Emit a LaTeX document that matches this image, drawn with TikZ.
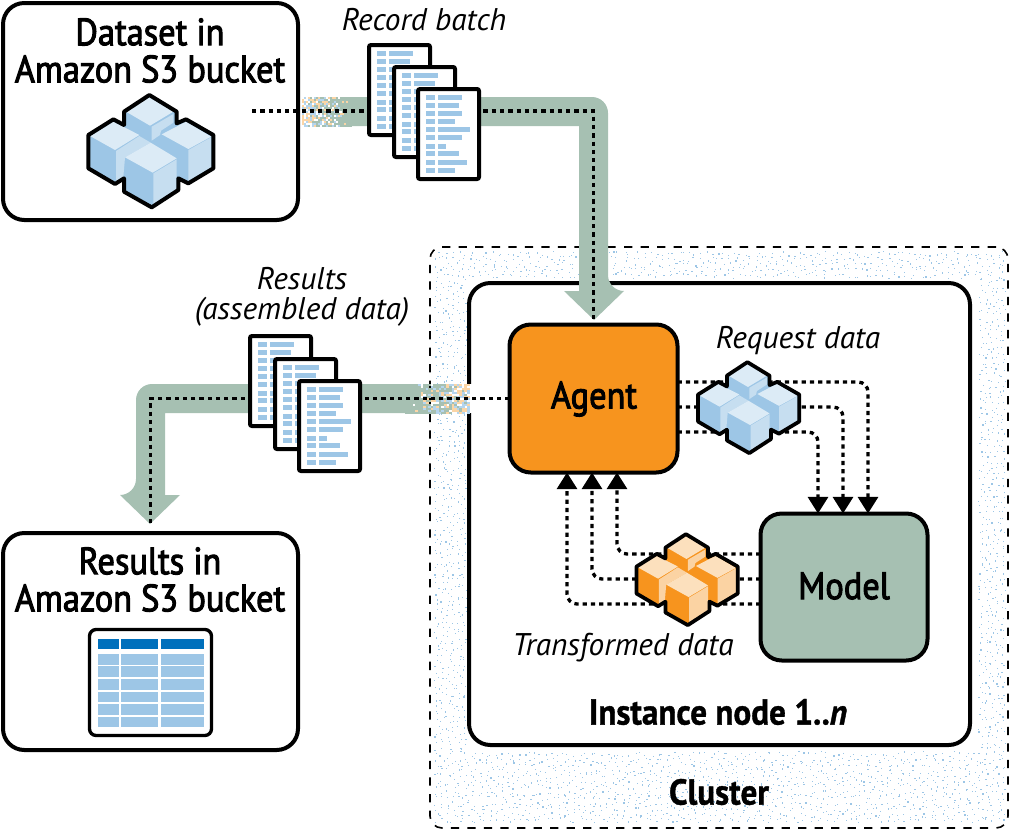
\documentclass[tikz,border=0pt]{standalone}
\usepackage{fontspec}
\setmainfont{PT Sans}
\newfontfamily\semib[FakeBold=2.6,FakeStretch=0.905]{PT Sans}
\newfontfamily\titlef[FakeBold=1,FakeStretch=0.92]{PT Sans}
\usetikzlibrary{arrows.meta,calc}
\definecolor{sage}{HTML}{A6C0B2}
\definecolor{amber}{HTML}{F7941E}
\definecolor{skyb}{HTML}{9DC6E6}
\definecolor{skytop}{HTML}{DCEBF6}
\definecolor{skyside}{HTML}{C6DEF0}
\definecolor{ambertop}{HTML}{FCE0BD}
\definecolor{amberside}{HTML}{FBD3A3}
\definecolor{headblue}{HTML}{0070BC}
\definecolor{speckblue}{HTML}{B5D5EE}
\definecolor{speckorange}{HTML}{FBD5A6}
\tikzset{
  box/.style={draw=black,line width=3pt,rounded corners=16pt,inner sep=0pt,outer sep=0pt},
  dots/.style={draw=black,line width=2.5pt,dash pattern=on 3.2pt off 3pt,rounded corners=7.5pt},
  tipped/.style={-{Triangle[length=12.5pt,width=15pt]}},
  lab/.style={font=\fontsize{23.5}{26}\selectfont\itshape,inner sep=0pt},
  head/.style={font=\fontsize{28.5}{30}\selectfont\semib,inner sep=0pt},
  title/.style={font=\fontsize{27}{30}\selectfont\titlef\bfseries,inner sep=0pt},
  band/.style={fill=sage,draw=none},
}
% cube cluster: centre x, y, scale, base, top, side, line width
\newcommand{\cubecluster}[7]{%
\begin{scope}[shift={(#1,#2)},scale=#3/3,shift={(-272,-213)},line join=round]
  \path[fill=#4] (268,45)--(350,95)--(350,130)--(378,118)--(460,165)--(460,265)--(385,310)--(355,295)--(355,330)--(275,382)--(192,335)--(192,295)--(165,312)--(85,265)--(85,165)--(160,118)--(192,135)--(192,95)--cycle;
  \fill[#6] (340,102)--(340,128)--(303,152)--(300,165)--(275,182)--(275,140)--cycle;
  \fill[#6] (238,168)--(272,188)--(195,232)--(190,290)--(168,303)--(168,213)--cycle;
  \fill[#6] (350,238)--(350,330)--(280,372)--(280,280)--cycle;
  \fill[#6] (453,172)--(453,262)--(385,302)--(385,210)--cycle;
  \fill[#5] (268,52)--(340,95)--(270,137)--(198,95)--cycle;
  \fill[#5] (160,125)--(238,165)--(165,210)--(90,168)--cycle;
  \fill[#5] (378,125)--(453,170)--(385,207)--(305,163)--cycle;
  \fill[#5] (272,188)--(350,235)--(278,278)--(195,232)--cycle;
  \draw[line width=#7,black] (268,45)--(350,95)--(350,130)--(378,118)--(460,165)--(460,265)--(385,310)--(355,295)--(355,330)--(275,382)--(192,335)--(192,295)--(165,312)--(85,265)--(85,165)--(160,118)--(192,135)--(192,95)--cycle;
\end{scope}}
% document page: outer left, outer top, name
\newcommand{\docpage}[3]{%
\node[draw=black,fill=white,line width=3pt,rounded corners=1.5pt,inner sep=0pt,outer sep=0pt,minimum width=61*.75pt,minimum height=90*.75pt] (#3) at (#1+32.5,#2+47) {};
\foreach \ly/\lx in {10/46,18/43,26/46,34.3/39,42.3/54,50.3/46,59/30,66.7/43,75/51,83/39}{
  \fill[skyb] (#1+10,#2+\ly-2.5) rectangle (#1+19,#2+\ly+2.5);
  \fill[skyb] (#1+21.5,#2+\ly-2.5) rectangle (#1+\lx,#2+\ly+2.5);
}}
% dithered fade of a band: green end x, far end x, top y, rows
\newcommand{\speckle}[4]{%
\foreach \ci in {0,...,24}{
  \pgfmathsetmacro{\cx}{#1+(#2-#1)*\ci/24}
  \pgfmathsetmacro{\ct}{\ci/24}
  \foreach \cj in {0,...,#4}{
    \pgfmathsetmacro{\cy}{#3+2*\cj}
    \pgfmathsetmacro{\cr}{rnd}
    \pgfmathsetmacro{\cs}{rnd}
    \pgfmathsetmacro{\cw}{abs(#2-#1)/24+.3}
    \ifdim\cr pt>\ct pt
      \fill[sage] (\cx,\cy) rectangle ++(\cw,2.1);
    \else
      \ifdim\cs pt<.36pt
        \fill[speckblue] (\cx,\cy) rectangle ++(\cw,2.1);
      \else\ifdim\cs pt<.72pt
        \fill[speckorange] (\cx,\cy) rectangle ++(\cw,2.1);
      \fi\fi
    \fi
  }}}
\begin{document}
\begin{tikzpicture}[x=.75pt,y=-.75pt]
\useasboundingbox (0,0) rectangle (1011,832);
\pgfmathsetseed{7}
% cluster and instance
\node[draw=black,fill=white,line width=1.2pt,dash pattern=on 6.2pt off 6.2pt,rounded corners=9pt,inner sep=0pt,outer sep=0pt,minimum width=578*.75pt,minimum height=581*.75pt] (cluster) at (719,537.5) {};
\foreach \i in {0,...,103}{
  \foreach \j in {0,...,103}{
    \pgfmathtruncatemacro{\gx}{434+\i*5.5}
    \pgfmathtruncatemacro{\gy}{251+\j*5.5}
    \pgfmathtruncatemacro{\inner}{(\gx>462 && \gx<974 && \gy>276 && \gy<750) ? 1 : 0}
    \ifnum\inner=0
      \pgfmathsetmacro{\qx}{\gx+5*rnd}
      \pgfmathsetmacro{\qy}{\gy+5*rnd}
      \fill[skyb] (\qx,\qy) rectangle ++(1.2,1.2);
    \fi
  }}
\node[box,fill=white,minimum width=501*.75pt,minimum height=462*.75pt] (instance) at (719.5,514) {};
% source / results boxes
\node[box,fill=white,minimum width=295*.75pt,minimum height=217*.75pt] (dataset) at (150.5,111.5) {};
\node[box,fill=white,minimum width=295*.75pt,minimum height=217*.75pt] (resbox) at (150.5,641.5) {};
\node[box,fill=amber,minimum width=168*.75pt,minimum height=148*.75pt] (agent) at (593.5,398.5) {};
\node[box,fill=sage,minimum width=167*.75pt,minimum height=147*.75pt] (model) at (844,587) {};
% bands
\speckle{350}{302}{97}{14}
\path[band] (349,97) [rounded corners=12pt] -- (608,97) -- (608,291) [sharp corners] -- (624,291) -- (594,320) -- (564,291) -- (579,291) -- (579,126) -- (349,126) -- cycle;
\fill[white] (441,384) rectangle (472,413);
\speckle{405}{467}{384}{14}
\path[band] (406,384) [rounded corners=12pt] -- (136,384) -- (136,495) [sharp corners] -- (120,495) -- (150,524) -- (180,495) -- (165,495) -- (165,413) -- (406,413) -- cycle;
% main dotted
\coordinate (srcstart) at (252,111);
\draw[dots,rounded corners=0pt] (srcstart) -| ($(agent.north)+(0,-5)$);
\draw[dots,rounded corners=0pt] (agent.west) -| ($(resbox.north)+(0,-10)$);
% request / transform connectors
\draw[dots,tipped] ($(agent.east)+(0,-16.5)$) -| ($(model.north)+(24,0)$);
\draw[dots,tipped] ($(agent.east)+(0,8.5)$) -| ($(model.north)+(-1,0)$);
\draw[dots,tipped] ($(agent.east)+(0,33.5)$) -| ($(model.north)+(-26,0)$);
\draw[dots,tipped] ($(model.west)+(0,-33)$) -| ($(agent.south)+(23.5,0)$);
\draw[dots,tipped] ($(model.west)+(0,-8)$) -| ($(agent.south)+(-1.5,0)$);
\draw[dots,tipped] ($(model.west)+(0,17)$) -| ($(agent.south)+(-26.5,0)$);
% icons
\cubecluster{150.7}{151}{1}{skyb}{skytop}{skyside}{3pt}
\cubecluster{748.5}{407.5}{.81}{skyb}{skytop}{skyside}{2.8pt}
\cubecluster{687}{579.5}{.81}{amber}{ambertop}{amberside}{2.8pt}
% document stacks
\docpage{367}{43}{doca}\docpage{392}{65}{docb}\docpage{416}{87}{docc}
\docpage{248}{334}{docd}\docpage{273}{357}{doce}\docpage{297}{379}{docf}
% table icon
\node[draw=black,fill=white,line width=2.5pt,rounded corners=5pt,inner sep=0pt,outer sep=0pt,minimum width=122*.75pt,minimum height=106*.75pt] (tablebox) at (150.5,682.5) {};
\foreach \xa/\xb in {98/119,121/158,161/204}{
  \fill[headblue] (\xa,639) rectangle (\xb,649);
  \foreach \ya/\yb in {654/665,666/677,679/690,692/702,704/715,717/727}{
    \fill[skyb] (\xa,\ya) rectangle (\xb,\yb);
  }}
% text
\node[head] (t1) at (150,32) {Dataset in};
\node[head] (t2) at (150,69) {Amazon S3 bucket};
\node[head] (t3) at (150,561) {Results in};
\node[head] (t4) at (150,598) {Amazon S3 bucket};
\node[lab] (t5) at (424,20) {Record batch};
\node[lab] (t6) at (302,279) {Results};
\node[lab] (t7) at (302,312) {(assembled data)};
\node[lab] (t8) at (798,341) {Request data};
\node[lab] (t9) at (623,648) {Transformed data};
\node[head] (t10) at (594,399) {Agent};
\node[head] (t11) at (844,586) {Model};
\node[title] (t12) at (718,712) {Instance node 1..\textit{n}};
\node[title] (t13) at (719,792) {Cluster};
\end{tikzpicture}
\end{document}
